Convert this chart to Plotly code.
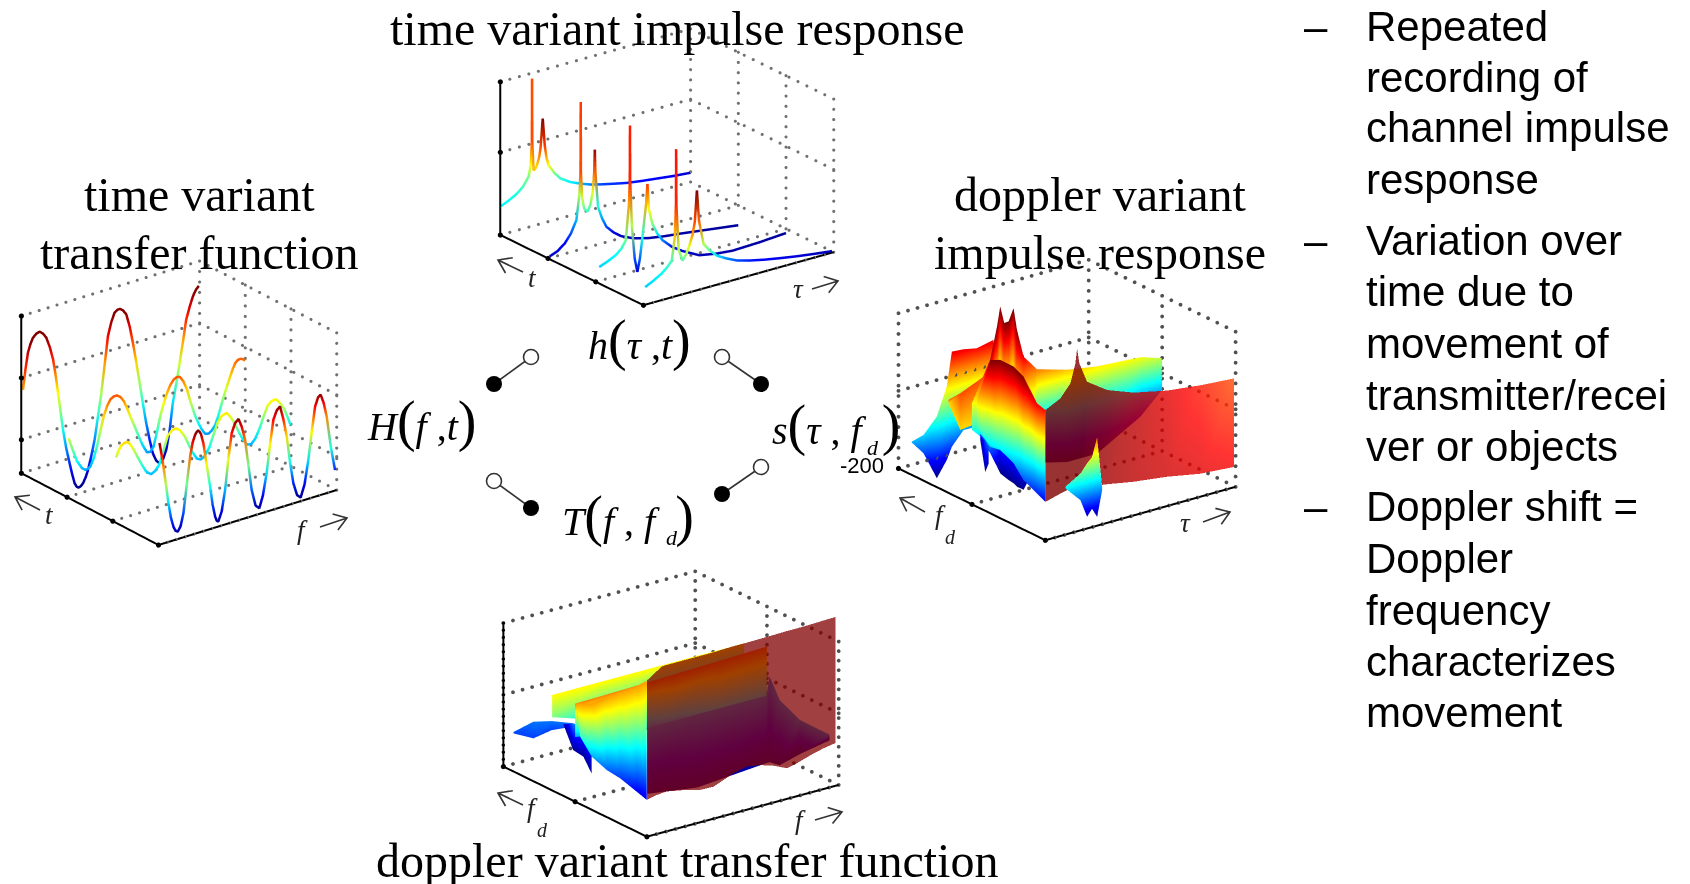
import plotly.graph_objects as go
import numpy as np
import math

W, H = 1690, 884
JET = [[0, 'rgb(0,0,143)'], [.125, 'rgb(0,0,255)'], [.375, 'rgb(0,255,255)'],
       [.625, 'rgb(255,255,0)'], [.875, 'rgb(255,0,0)'], [1, 'rgb(128,0,0)']]

# ---------- h(tau,t): curves at t levels
h_t = [1, 2/3, 1/3, 0]
h_tau = [
 [0,.045,.088,.12,.149,.160,.166,.167,.168,.175,.19,.205,.212,.223,.234,.243,.254,.285,.316,.365,.42,.47,.526,.6,.667,.745,.825,.91,1],
 [.009,.05,.088,.12,.149,.165,.171,.172,.173,.18,.19,.207,.222,.235,.243,.246,.249,.263,.285,.307,.345,.386,.45,.526,.61,.70,.85,1],
 [.018,.06,.105,.135,.158,.175,.179,.18,.181,.19,.205,.219,.232,.245,.265,.272,.279,.298,.325,.351,.40,.456,.544,.63,.719,.86,1],
 [.009,.05,.096,.125,.149,.165,.171,.172,.173,.185,.205,.222,.24,.258,.27,.281,.292,.316,.35,.386,.435,.491,.56,.632,.72,.807,.9,.991]]
h_z = [
 [.185,.21,.24,.275,.33,.40,.55,.963,.55,.36,.38,.44,.5,.683,.5,.42,.367,.305,.26,.22,.19,.167,.148,.127,.109,.095,.083,.07,.06],
 [.01,.03,.067,.12,.198,.36,.5,.962,.5,.33,.26,.233,.27,.35,.48,.625,.48,.245,.16,.1,.05,.011,-.025,-.05,-.067,-.08,-.105,-.13],
 [.09,.11,.137,.17,.217,.45,.6,.958,.6,.3,.08,-.011,.07,.2,.42,.545,.38,.274,.2,.15,.09,.043,-.015,-.035,-.046,-.04,-.028],
 [.115,.14,.174,.205,.24,.387,.6,.96,.6,.3,.22,.25,.3,.37,.45,.652,.45,.29,.235,.19,.155,.122,.098,.078,.058,.04,.024,.01]]
h_c = [
 [.38,.39,.40,.45,.5,.62,.8,.8,.8,.68,.66,.74,.8,1,.82,.7,.62,.5,.42,.37,.32,.25,.2,.17,.15,.13,.12,.1,.08],
 [.05,.08,.12,.2,.3,.55,.8,.82,.8,.58,.47,.42,.48,.6,.78,.98,.78,.4,.28,.2,.1,.05,.04,.03,.025,.02,.02,.02],
 [.33,.35,.38,.42,.48,.72,.84,.85,.84,.55,.2,.08,.22,.4,.7,.82,.62,.5,.35,.25,.14,.08,.05,.04,.03,.025,.02],
 [.33,.35,.38,.42,.45,.68,.84,.86,.84,.55,.45,.52,.6,.72,.8,1,.78,.55,.45,.35,.27,.2,.15,.12,.1,.08,.06,.05]]

# ---------- H(f,t): curves at t levels
H_t = [1, 2/3, 1/3, 0]
H_f = [
 [.009,.023,.037,.05,.065,.084,.103,.122,.14,.16,.178,.192,.206,.22,.234,.252,.271,.285,.299,.31,.321,.334,.346,.36,.374,.392,.411,.43,.449,.468,.486,.505,.523,.54,.555,.572,.589,.608,.626,.645,.664,.682,.701,.72,.738,.757,.776,.795,.813,.832,.85,.87,.888,.907,.925,.945,.963,.98,.996],
 [.009,.028,.056,.084,.103,.117,.131,.15,.168,.187,.206,.225,.243,.262,.28,.3,.318,.337,.355,.38,.402,.425,.449,.468,.486,.505,.523,.542,.561,.58,.598,.615,.632,.652,.673,.695,.72,.74,.757,.775,.794,.813,.832,.85,.869,.893,.916,.93,.944,.958,.972,.986,1],
 [.019,.033,.047,.065,.084,.102,.121,.145,.168,.19,.215,.238,.262,.285,.308,.33,.355,.378,.402,.425,.449,.472,.495,.518,.542,.565,.589,.612,.639,.66,.682,.705,.729,.752,.776,.8,.822,.845,.869,.892,.916,.94,.963,.982,1],
 [.006,.017,.028,.042,.056,.07,.084,.096,.108,.124,.14,.159,.178,.192,.206,.215,.224,.238,.252,.27,.29,.304,.318,.327,.336,.355,.374,.392,.411,.43,.449,.467,.486,.505,.523,.545,.566,.586,.607,.626,.645,.664,.682,.7,.72,.738,.757,.778,.798,.82,.841,.86,.879,.895,.91,.927,.944,.968,.991]]
H_z = [
 [.526,.65,.753,.80,.838,.858,.864,.845,.813,.745,.662,.56,.438,.315,.194,.07,-.032,-.105,-.168,-.194,-.204,-.199,-.185,-.155,-.111,-.03,.068,.21,.353,.53,.702,.785,.838,.851,.851,.834,.804,.72,.611,.48,.34,.205,.072,-.04,-.132,-.185,-.209,-.19,-.136,-.02,.149,.27,.389,.52,.653,.73,.789,.825,.843],
 [.372,.302,.209,.155,.138,.138,.149,.195,.264,.355,.443,.50,.536,.549,.549,.532,.5,.448,.389,.315,.247,.18,.128,.125,.153,.24,.332,.405,.466,.512,.538,.548,.545,.51,.449,.355,.262,.205,.164,.132,.126,.14,.17,.225,.296,.378,.449,.49,.523,.537,.54,.533,.519],
 [.398,.437,.462,.474,.474,.446,.404,.345,.291,.245,.223,.235,.27,.35,.434,.46,.466,.444,.402,.34,.279,.232,.219,.235,.279,.35,.421,.456,.464,.432,.387,.325,.266,.225,.217,.245,.296,.365,.43,.452,.455,.42,.374,.315,.255],
 [.647,.57,.489,.37,.247,.15,.087,.057,.047,.075,.153,.33,.502,.585,.63,.645,.651,.625,.56,.42,.27,.15,.07,.04,.032,.09,.219,.41,.568,.625,.645,.59,.5,.33,.168,.06,.036,.11,.245,.42,.572,.625,.643,.56,.438,.27,.128,.045,.023,.1,.247,.42,.574,.625,.638,.58,.487,.28,.13]]
H_lo = [-.2, -.1, 0, .03]
H_hi = [.82, .72, .72, .65]

# ---------- s(tau,fd): ribbons (tau, fd, low, high, colour low, colour high)
s_wall_tau = [0,.079,.132,.158,.167,.179,.219,.325,.465,.64,.816,.991]
s_wall_low = [.247,.273,.288,.29,.29,.286,.269,.249,.217,.189,.148,.131]
s_wall_top = [.839,.886,.966,1.086,1.178,1.077,.946,.856,.791,.744,.718,.701]
s_wall_cl  = [1,1,1,1,1,1,.98,.96,.94,.92,.90,.88]
s_wall_ct  = [1,1,1,1,1,1,1,.98,.94,.90,.85,.80]

s_mid_tau = [0,.044,.096,.132,.149,.17,.193,.219,.237,.272,.342,.5,.658,.886,1]
s_mid_low = [.48,.422,.297,.198,.148,.12,.09,.06,.032,0,.15,.10,.10,.26,.394]
s_mid_top = [.652,.766,.899,1.10,1.224,1.11,1.112,1.189,1.043,.858,.753,.695,.662,.643,.598]

s_side_fd  = [0,.057,.148,.216,.307,.375,.466]
s_side_low = [.247,.275,.318,.396,.439,.428,.516]
s_side_top = [.839,.856,.985,1.019,1.02,.987,.688]

s_back_tau = [.07,.132,.202,.254,.281,.342,.412,.5]
s_back_low = [.142,.052,-.133,-.034,.043,.129,.127,.161]
s_back_top = [.148,.17,.265,.439,.656,.65,.632,.656]

s_stair_tau = [.07,.132,.219,.325]
s_stair_low = [.512,.318,.331,.467]
s_stair_top = [.533,.555,.6,.66]

s_fringe_tau = [.09,.169,.204,.23,.257,.283]
s_fringe_low = [.312,.209,.09,.133,.071,.234]
s_fringe_top = [.323,.381,.434,.467,.587,.256]

s_spur_fd  = [.43,.396,.373]
s_spur_low = [.449,.26,.325]
s_spur_top = [.49,.464,.432]

# ---------- T(f,fd): ribbons
T_wall_f   = [0,.052,.078,.104,.191,.278,.348,.4,.452,.522,.591,.661,.73,.783,.87,.922,.983]
T_wall_low = [.256,.272,.275,.278,.256,.226,.223,.251,.279,.301,.286,.256,.214,.23,.267,.284,.298]
T_wall_top = [1.088,1.135,1.158,1.16,1.16,1.16,1.16,1.163,1.165,1.165,1.166,1.168,1.17,1.17,1.172,1.175,1.177]

T_under_f   = [.04,.3,.66,.678,.73,.835,.99]
T_under_low = [.26,.21,.25,.25,.21,.25,.29]
T_under_top = [.72,.72,.72,.848,.665,.488,.33]

T_side_fd  = [0,.07,.186,.279,.384,.465,.488]
T_side_low = [.256,.279,.316,.328,.37,.47,.621]
T_side_top = [1.088,1.016,.921,.84,.742,.702,.691]
T_side_cl  = [.10,.12,.18,.22,.30,.42,.50]

T_flat_f   = [0,.25,.5,.75,1]
T_back_low = [.51,.40,.30,.25,.25]
T_back_top = [.665,.665,.665,.665,.663]
T_back_cl  = [.5,.34,.2,.12,.12]
T_mid_low  = [.45,.40,.35,.30,.30]
T_mid_top  = [.683,.69,.70,.71,.72]

T_tip_f   = [.023,.127,.223,.336]
T_tip_low = [.242,.17,.193,.177]
T_tip_top = [.253,.286,.256,.2]

T_fr_f   = [0,.05,.103,.146]
T_fr_low = [.495,.302,.237,.105]
T_fr_top = [.507,.488,.447,.384]

# ---------- text
TITLE_TOP = "time variant impulse response"
TITLE_LEFT = ["time variant", "transfer function"]
TITLE_RIGHT = ["doppler variant", "impulse response"]
TITLE_BOTTOM = "doppler variant transfer function"
BULLETS = [["Repeated","recording of","channel impulse","response"],
           ["Variation over","time due to","movement of","transmitter/recei","ver or objects"],
           ["Doppler shift =","Doppler","frequency","characterizes","movement"]]

EYE_D = 6.0
PANELS = [  # scene, page centre, alpha, theta, a, b, c
 ('scene',  667, 167, 53.0, 21.7, 238.0, 237.6, 164.6),
 ('scene2', 179, 403, 52.5, 23.7, 224.4, 225.0, 171.5),
 ('scene3', 1067,400, 52.85,21.75,238.4, 243.0, 166.9),
 ('scene4', 671, 704, 53.4, 21.3, 238.7, 240.4, 153.8)]
DOM_W, DOM_H = 350, 330
REF = 238.0/1.444
XR = [-.1, 1.1]; ZR = [-.6, 1.6]

fig = go.Figure()

def line3(scene, x, y, z, color='black', width=4, markers=0, c=None):
    ln = dict(width=width)
    if c is not None:
        ln.update(color=c, colorscale=JET, cmin=0, cmax=1)
    else:
        ln.update(color=color)
    kw = {}
    mode = 'lines'
    if markers:
        mode = 'lines+markers'
        kw['marker'] = dict(size=markers, color=color)
    fig.add_trace(go.Scatter3d(x=x, y=y, z=z, mode=mode, line=ln, scene=scene,
                               hoverinfo='skip', showlegend=False, **kw))

def box(scene, yticks, zticks, axis_z_ticks, solid_z=True, dot=1.8, dotc='#707070', ztick=3):
    X, Y, Z = [], [], []
    def seg(p, q, n):
        X.extend(np.linspace(p[0], q[0], n)); Y.extend(np.linspace(p[1], q[1], n)); Z.extend(np.linspace(p[2], q[2], n))
    for zv in zticks:
        seg((0,1,zv), (1,1,zv), 21)
        seg((1,1,zv), (1,0,zv), 17)
    for yv in yticks:
        seg((0,yv,0), (1,yv,0), 21)
        seg((1,yv,0), (1,yv,1), 16)
    if not solid_z:
        seg((0,1,0), (0,1,1), 16)
    fig.add_trace(go.Scatter3d(x=X, y=Y, z=Z, mode='markers', marker=dict(size=dot, color=dotc, line=dict(width=0)),
                               scene=scene, hoverinfo='skip', showlegend=False))
    if solid_z:
        line3(scene, [0]*len(axis_z_ticks), [1]*len(axis_z_ticks), axis_z_ticks, markers=ztick)
    line3(scene, [0]*len(yticks), sorted(yticks, reverse=True), [0]*len(yticks), markers=3)
    line3(scene, [0,1], [0,0], [0,0])

def ribbon(scene, xs, ys, low, top, cl, ct, opacity=1.0):
    n = len(xs)
    i, j, k = [], [], []
    for m in range(n-1):
        i += [m, m]; j += [m+1, n+m+1]; k += [n+m+1, n+m]
    fig.add_trace(go.Mesh3d(x=list(xs)*2, y=list(ys)*2, z=list(low)+list(top), i=i, j=j, k=k,
        intensity=list(cl)+list(ct), intensitymode='vertex', cmin=0, cmax=1, colorscale=JET, showscale=False,
        opacity=opacity, scene=scene, hoverinfo='skip', flatshading=False,
        lighting=dict(ambient=1, diffuse=0, specular=0, fresnel=0, roughness=1)))

def norm(vals, lo, hi):
    return [min(1, max(0, (v-lo)/(hi-lo))) for v in vals]
def flat(v, n): return [v]*n

# panel 1
box('scene', [0,1/3,2/3,1], [0,.54,1], [0,.54,1])
for t, xs, zs, cs in zip(h_t, h_tau, h_z, h_c):
    line3('scene', xs, [t]*len(xs), zs, width=5, c=cs)

# panel 2
box('scene2', [0,1/3,2/3,1], [0,.213,.606,1], [0,.213,.606,1])
for t, xs, zs, lo, hi in zip(H_t, H_f, H_z, H_lo, H_hi):
    line3('scene2', xs, [t]*len(xs), zs, width=5, c=norm(zs, lo, hi))

# panel 3
box('scene3', [0,.5,1], [0,.5,1], [0,1], solid_z=False, dot=2.2, dotc='#505050')
ribbon('scene3', s_back_tau, flat(1,8), s_back_low, s_back_top, norm(s_back_low,-.13,.8), norm(s_back_top,-.13,.75))
ribbon('scene3', s_stair_tau, flat(.75,4), s_stair_low, s_stair_top, flat(.66,4), flat(.8,4))
ribbon('scene3', s_mid_tau, flat(.5,15), s_mid_low, s_mid_top, norm(s_mid_low,.15,.95), norm(s_mid_top,.15,.95))
ribbon('scene3', flat(0,7), s_side_fd, s_side_low, s_side_top, norm(s_side_low,.15,.95), norm(s_side_top,.15,.95))
ribbon('scene3', flat(-.01,3), s_spur_fd, s_spur_low, s_spur_top, flat(.03,3), flat(.2,3))
ribbon('scene3', s_fringe_tau, flat(-.02,6), s_fringe_low, s_fringe_top, norm(s_fringe_low,.05,.75), norm(s_fringe_top,.05,.75))
ribbon('scene3', s_wall_tau, flat(0,12), s_wall_low, s_wall_top, s_wall_cl, s_wall_ct, opacity=.8)

# panel 4
box('scene4', [0,.5,1], [0,.5,1], [i/20 for i in range(21)], dot=2.2, dotc='#505050', ztick=2)
ribbon('scene4', T_tip_f, flat(.96,4), T_tip_low, T_tip_top, flat(.19,4), flat(.24,4))
ribbon('scene4', T_flat_f, flat(.66,5), T_back_low, T_back_top, T_back_cl, flat(.63,5))
ribbon('scene4', T_fr_f, flat(.58,4), T_fr_low, T_fr_top, flat(.02,4), flat(.25,4))
ribbon('scene4', T_flat_f, flat(.5,5), T_mid_low, T_mid_top, flat(.3,5), flat(.75,5))
ribbon('scene4', T_under_f, flat(.05,7), T_under_low, T_under_top, flat(.02,7), flat(.28,7))
ribbon('scene4', flat(0,7), T_side_fd, T_side_low, T_side_top, T_side_cl, flat(.72,7))
ribbon('scene4', T_wall_f, flat(0,17), T_wall_low, T_wall_top, flat(1,17), flat(1,17), opacity=.75)

# overlay nodes
NODE_LINKS = [((494,384),(531,357)), ((722,357),(761,384)), ((494,481),(531,508)), ((722,494),(761,467))]
NODE_FILLED = [(494,384),(761,384),(531,508),(722,494)]
NODE_OPEN = [(531,357),(722,357),(494,481),(761,467)]
for a, b in NODE_LINKS:
    fig.add_trace(go.Scatter(x=[a[0],b[0]], y=[a[1],b[1]], mode='lines', line=dict(color='#333333', width=1.6),
                             hoverinfo='skip', showlegend=False))
fig.add_trace(go.Scatter(x=[p[0] for p in NODE_FILLED], y=[p[1] for p in NODE_FILLED], mode='markers',
                         marker=dict(size=16, color='black'), hoverinfo='skip', showlegend=False))
fig.add_trace(go.Scatter(x=[p[0] for p in NODE_OPEN], y=[p[1] for p in NODE_OPEN], mode='markers',
                         marker=dict(size=15, color='white', line=dict(color='#333333', width=1.6)),
                         hoverinfo='skip', showlegend=False))

ann = []
def txt(x, y, s, size, family='Liberation Serif', anchor='center', color='black'):
    ann.append(dict(x=x, y=y, xref='x', yref='y', text=s, showarrow=False, xanchor=anchor, yanchor='middle',
                    font=dict(size=size, family=family, color=color)))
TS = 48
txt(677, 28, TITLE_TOP, TS)
txt(199, 194, TITLE_LEFT[0], TS); txt(199, 252, TITLE_LEFT[1], TS)
txt(1100, 194, TITLE_RIGHT[0], TS); txt(1100, 252, TITLE_RIGHT[1], TS)
txt(687, 860, TITLE_BOTTOM, TS)

def P(s): return '<span style="font-size:56px">' + s + '</span>'
txt(421, 421, '<i>H</i>' + P('(') + '<i>f</i> ,<i>t</i>' + P(')'), 40)
txt(639, 340, '<i>h</i>' + P('(') + '<i>τ</i> ,<i>t</i>' + P(')'), 40)
txt(836, 425, '<i>s</i>' + P('(') + '<i>τ</i> , <i>f</i>  ' + P(')'), 40)
txt(873, 447, '<i>d</i>', 22)
txt(628, 516, '<i>T</i>' + P('(') + '<i>f</i> , <i>f</i>  ' + P(')'), 40)
txt(672, 537, '<i>d</i>', 22)
txt(862, 465, '-200', 22, family='Liberation Sans')

# axis labels
AX = 27
txt(532, 278, '<i>t</i>', AX, color='#222'); txt(798, 289, '<i>τ</i>', AX, color='#222')
txt(49, 515, '<i>t</i>', AX, color='#222'); txt(302, 530, '<i>f</i>', AX, color='#222')
txt(940, 515, '<i>f</i>', AX, color='#222'); txt(950, 537, '<i>d</i>', 20, color='#222'); txt(1185, 523, '<i>τ</i>', AX, color='#222')
txt(532, 808, '<i>f</i>', AX, color='#222'); txt(542, 830, '<i>d</i>', 20, color='#222'); txt(800, 820, '<i>f</i>', AX, color='#222')

# bullets
Y_LINES = [[26,77,127,179],[240,291,343,395,446],[506,558,610,661,712]]
for group, ys in zip(BULLETS, Y_LINES):
    txt(1302, ys[0], '–', 42, family='Liberation Sans', anchor='left')
    for s, y in zip(group, ys):
        txt(1364, y, s, 42, family='Liberation Sans', anchor='left')

# axis arrows
ARROWS = [((523,272),(498,260)),((812,289),(838,281)),((40,510),(15,497)),((320,527),(347,518)),
          ((925,512),(900,498)),((1203,522),(1230,512)),((523,805),(498,793)),((815,820),(842,812))]
shapes = []
for a, b in ARROWS:
    ang = math.atan2(a[1]-b[1], a[0]-b[0])
    p = []
    for d in (.6, -.6):
        p.append((b[0]+15*math.cos(ang+d), b[1]+15*math.sin(ang+d)))
    path = f"M{a[0]},{a[1]} L{b[0]},{b[1]} M{p[0][0]:.1f},{p[0][1]:.1f} L{b[0]},{b[1]} L{p[1][0]:.1f},{p[1][1]:.1f}"
    shapes.append(dict(type='path', xref='x', yref='y', path=path, line=dict(color='#333', width=1.6)))

layout = dict(width=W, height=H, margin=dict(l=0,r=0,t=0,b=0), paper_bgcolor='white', plot_bgcolor='rgba(0,0,0,0)',
              showlegend=False, annotations=ann, shapes=shapes,
              xaxis=dict(range=[0,W], visible=False, domain=[0,1], fixedrange=True),
              yaxis=dict(range=[H,0], visible=False, domain=[0,1], fixedrange=True))
for name, cx, cy, al, th, a, b, c in PANELS:
    A, T = math.radians(al), math.radians(th)
    eye = dict(x=-math.cos(A)*math.cos(T)*EYE_D, y=-math.sin(A)*math.cos(T)*EYE_D, z=math.sin(T)*EYE_D)
    ax = dict(visible=False, showspikes=False)
    layout[name] = dict(
        domain=dict(x=[max(0,(cx-DOM_W/2)/W), min(1,(cx+DOM_W/2)/W)], y=[1-(cy+DOM_H/2)/H, 1-(cy-DOM_H/2)/H]),
        aspectmode='manual',
        aspectratio=dict(x=1.2*a/REF, y=1.2*b/REF, z=2.2*c/REF),
        camera=dict(eye=eye, center=dict(x=0,y=0,z=0), up=dict(x=0,y=0,z=1), projection=dict(type='orthographic')),
        xaxis=dict(range=XR, **ax), yaxis=dict(range=XR, **ax), zaxis=dict(range=ZR, **ax),
        bgcolor='rgba(0,0,0,0)', dragmode=False)
fig.update_layout(**layout)
fig.write_html("out.html", config=dict(displayModeBar=False),
               post_script="document.body.style.margin='0';")
